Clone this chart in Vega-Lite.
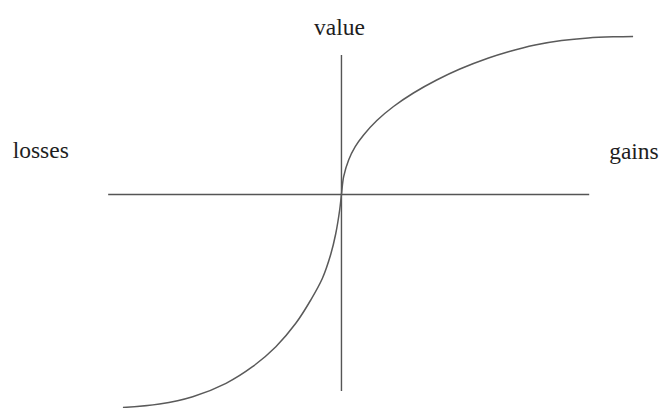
{
  "$schema": "https://vega.github.io/schema/vega-lite/v6.json",
  "width": 659,
  "height": 408,
  "padding": 0,
  "autosize": {"type": "fit", "contains": "padding"},
  "background": "white",
  "config": {"view": {"stroke": null}},
  "datasets": {
    "curve": [
      {"x": -219.2, "y": -213.0},
      {"x": -182.5, "y": -209.5},
      {"x": -149.2, "y": -202.2},
      {"x": -115.8, "y": -188.8},
      {"x": -89.2, "y": -172.2},
      {"x": -65.8, "y": -152.2},
      {"x": -45.8, "y": -128.8},
      {"x": -30.8, "y": -105.5},
      {"x": -19.2, "y": -84.0},
      {"x": -10.8, "y": -60.0},
      {"x": -5.8, "y": -39.5},
      {"x": -1.8, "y": -15.5},
      {"x": 0, "y": 0},
      {"x": 2.2, "y": 17.8},
      {"x": 7.2, "y": 34.5},
      {"x": 13.8, "y": 47.8},
      {"x": 22.2, "y": 59.5},
      {"x": 35.5, "y": 74.0},
      {"x": 52.2, "y": 88.0},
      {"x": 72.2, "y": 101.5},
      {"x": 95.5, "y": 114.5},
      {"x": 118.8, "y": 125.5},
      {"x": 147.5, "y": 136.5},
      {"x": 167.5, "y": 142.8},
      {"x": 194.2, "y": 149.5},
      {"x": 220.8, "y": 154.0},
      {"x": 247.5, "y": 156.6},
      {"x": 274.2, "y": 157.7},
      {"x": 292.5, "y": 158.0}
    ],
    "axes": [
      {"x": -234, "y": 0, "x2": 248.5, "y2": 0},
      {"x": 0, "y": 139.5, "x2": 0, "y2": -196.5}
    ],
    "labels": [
      {"x": -2, "y": 159.5, "text": "value", "align": "center"},
      {"x": -329.8, "y": 36.2, "text": "losses", "align": "left"},
      {"x": 268.5, "y": 35.5, "text": "gains", "align": "left"}
    ]
  },
  "layer": [
    {
      "data": {"name": "axes"},
      "mark": {"type": "rule", "color": "#555555", "strokeWidth": 1.4},
      "encoding": {
        "x": {"field": "x", "type": "quantitative", "scale": {"domain": [-342.5, 316.5], "nice": false, "zero": false}, "axis": null},
        "y": {"field": "y", "type": "quantitative", "scale": {"domain": [-213.5, 194.5], "nice": false, "zero": false}, "axis": null},
        "x2": {"field": "x2"},
        "y2": {"field": "y2"}
      }
    },
    {
      "data": {"name": "curve"},
      "mark": {"type": "line", "color": "#5a5a5a", "strokeWidth": 1.5, "interpolate": "catmull-rom", "clip": true},
      "encoding": {
        "x": {"field": "x", "type": "quantitative", "scale": {"domain": [-342.5, 316.5], "nice": false, "zero": false}, "axis": null},
        "y": {"field": "y", "type": "quantitative", "scale": {"domain": [-213.5, 194.5], "nice": false, "zero": false}, "axis": null}
      }
    },
    {
      "data": {"name": "labels"},
      "transform": [{"filter": "datum.align == 'left'"}],
      "mark": {"type": "text", "font": "Times New Roman, Liberation Serif, DejaVu Serif, serif", "fontSize": 23.5, "color": "#1e1e1e", "align": "left", "baseline": "alphabetic"},
      "encoding": {
        "x": {"field": "x", "type": "quantitative", "scale": {"domain": [-342.5, 316.5], "nice": false, "zero": false}, "axis": null},
        "y": {"field": "y", "type": "quantitative", "scale": {"domain": [-213.5, 194.5], "nice": false, "zero": false}, "axis": null},
        "text": {"field": "text"}
      }
    },
    {
      "data": {"name": "labels"},
      "transform": [{"filter": "datum.align == 'center'"}],
      "mark": {"type": "text", "font": "Times New Roman, Liberation Serif, DejaVu Serif, serif", "fontSize": 23.5, "color": "#1e1e1e", "align": "center", "baseline": "alphabetic"},
      "encoding": {
        "x": {"field": "x", "type": "quantitative", "scale": {"domain": [-342.5, 316.5], "nice": false, "zero": false}, "axis": null},
        "y": {"field": "y", "type": "quantitative", "scale": {"domain": [-213.5, 194.5], "nice": false, "zero": false}, "axis": null},
        "text": {"field": "text"}
      }
    }
  ]
}
